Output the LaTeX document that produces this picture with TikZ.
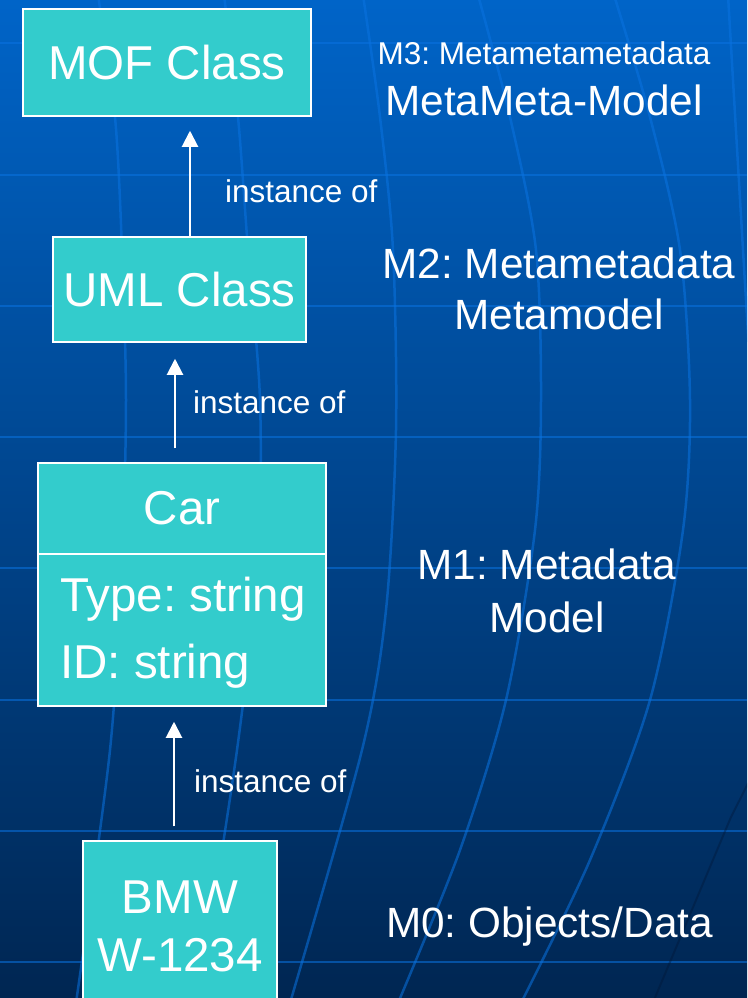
\documentclass[tikz,border=0pt]{standalone}
\usepackage{fontspec}
\setmainfont{Liberation Sans}
\usetikzlibrary{arrows.meta}
\definecolor{bgtop}{RGB}{0,100,200}
\definecolor{bgmid}{RGB}{0,70,148}
\definecolor{bgbot}{RGB}{0,38,82}
\definecolor{boxfill}{RGB}{51,204,204}
\definecolor{gridblue}{RGB}{10,115,225}
\definecolor{shadowblue}{RGB}{0,20,50}
\frenchspacing
\begin{document}
\begin{tikzpicture}[x=1pt,y=-1pt,
  box/.style={draw=white, line width=1.5pt, fill=boxfill, text=white, inner sep=0pt,
              font=\fontsize{47.5}{58}\selectfont},
  lbl/.style={text=white, inner sep=0pt, anchor=base, font=\fontsize{42.3}{50}\selectfont},
  small/.style={text=white, inner sep=0pt, anchor=base west, font=\fontsize{31.5}{37}\selectfont},
  attr/.style={text=white, inner sep=0pt, anchor=base west, font=\fontsize{47.5}{56}\selectfont},
  arr/.style={draw=white, line width=2pt, -{Triangle[width=16pt,length=16pt]}},
  gridline/.style={draw=gridblue, line width=2.5pt, opacity=0.55},
]
\useasboundingbox (0,0) rectangle (747,998);
\begin{scope}
\clip (0,0) rectangle (747,998);
% background
\shade[top color=bgtop, middle color=bgmid, bottom color=bgbot] (0,0) rectangle (747,998);
% horizontal grid lines
\foreach \yy in {43,175,306,437,568,700,831,962}
  \draw[gridline] (0,\yy) -- (747,\yy);
% curved grid lines
\draw[gridline] plot[smooth] coordinates {(98,-5) (115,117) (122,250) (126,400) (122,560) (110,750) (76,1003)};
\draw[gridline] plot[smooth] coordinates {(224,-5) (238,117) (248,250) (260,400) (258,560) (237,750) (198,1003)};
\draw[gridline] plot[smooth] coordinates {(363,-5) (380,117) (393,250) (396,430) (386,610) (362,750) (290,1003)};
\draw[gridline] plot[smooth] coordinates {(478,-5) (510,117) (536,250) (541,400) (535,530) (506,700) (460,850) (398,1003)};
\draw[gridline] plot[smooth] coordinates {(614,-5) (650,117) (680,250) (690,400) (683,530) (650,700) (590,860) (521,1003)};
\draw[gridline] plot[smooth] coordinates {(728,-5) (743,250) (752,400)};
\draw[draw=shadowblue, line width=2pt, opacity=0.35] (770,740) -- (731,817) -- (654,1000);

% boxes
\node[box, minimum width=288pt, minimum height=107pt] (mof) at (167,62.5) {MOF Class};
\node[box, minimum width=253pt, minimum height=105pt] (uml) at (179.5,289.5) {UML Class};
\node[box, minimum width=288pt, minimum height=91pt] (carname) at (182,508.5) {Car};
\node[box, minimum width=288pt, minimum height=152pt] (carattr) at (182,630) {};
\node[attr] (type) at (60,611) {Type: string};
\node[attr] (id) at (60,678) {ID: string};
\node[box, minimum width=194pt, minimum height=170pt, align=center] (bmw) at (180,926) {BMW\\W-1234};

% arrows
\coordinate (x1) at (190,0);
\coordinate (x2) at (175,0);
\coordinate (x3) at (174,0);
\draw[arr, shorten >=14pt] (uml.north -| x1) -- (mof.south -| x1);
\draw[arr, shorten <=14pt, shorten >=16pt] (carname.north -| x2) -- (uml.south -| x2);
\draw[arr, shorten <=14pt, shorten >=15pt] (bmw.north -| x3) -- (carattr.south -| x3);

% arrow labels
\node[small] (i1) at (225,202) {instance of};
\node[small] (i2) at (193,413) {instance of};
\node[small] (i3) at (194,792) {instance of};

% level labels
\node[text=white, inner sep=0pt, anchor=base, font=\fontsize{31.5}{37}\selectfont] (m3a) at (544,65) {M3: Metametametadata};
\node[lbl] (m3b) at (544,115) {MetaMeta-Model};
\node[lbl] (m2a) at (559,278) {M2: Metametadata};
\node[lbl] (m2b) at (559,329) {Metamodel};
\node[lbl] (m1a) at (547,579) {M1: Metadata};
\node[lbl] (m1b) at (547,632) {Model};
\node[lbl] (m0) at (549.5,937) {M0: Objects/Data};
\end{scope}
\end{tikzpicture}
\end{document}
